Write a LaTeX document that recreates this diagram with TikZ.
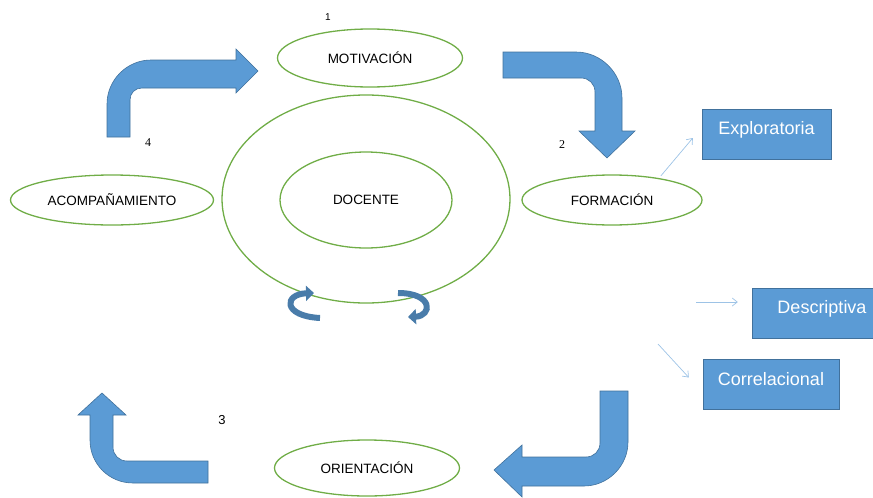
\documentclass[tikz,border=0pt]{standalone}
\usepackage{fontspec}
\setmainfont{Liberation Sans}
\newfontfamily\serifnum{Liberation Serif}
\usetikzlibrary{shapes.geometric}
\usetikzlibrary{arrows.meta}
\definecolor{elgreen}{HTML}{70AD47}
\definecolor{boxblue}{HTML}{5B9BD5}
\definecolor{boxedge}{HTML}{41719C}
\definecolor{thinblue}{HTML}{9DC3E6}

\begin{document}
\begin{tikzpicture}[x=1pt,y=-1pt,
    stage/.style={draw=elgreen, line width=1.3pt, ellipse, inner sep=0pt, font=\fontsize{13.5}{15}\selectfont},
    kind/.style={draw=boxedge, fill=boxblue, rectangle, text=white, font=\fontsize{18}{20}\selectfont, minimum height=50pt, text height=13pt, text depth=12pt},
    bigarrow/.style={fill=boxblue, draw=boxedge, line width=0.6pt},
    turn/.style={draw=boxblue!80!black, line width=6pt, -{Triangle[length=8pt,width=15pt]}},
    thinarrow/.style={draw=thinblue, line width=0.7pt, -{Straight Barb[length=5pt,width=8pt]}}]

    \useasboundingbox (0,0) rectangle (873,498);
    \clip (0,0) rectangle (873,498);

    % Centre
    \node[stage, minimum width=288pt, minimum height=208pt] (ring) at (366,199) {};
    \node[stage, minimum width=172pt, minimum height=96pt] (doc) at (366,200) {DOCENTE};
    \draw[turn] (320,318) .. controls (282,316) and (284,294) .. (314,293);
    \draw[turn] (398,293) .. controls (434,293) and (432,316) .. (408,317);

    % Stages
    \node[stage, minimum width=185pt, minimum height=58pt] (mot) at (370,58) {MOTIVACIÓN};
    \node[font=\fontsize{10}{12}\selectfont] (n1) at (328,17) {1};

    \node[stage, minimum width=180pt, minimum height=50pt] (form) at (612,200) {FORMACIÓN};
    \node[font=\fontsize{12}{14}\serifnum] (n2) at (562,145) {2};

    \node[stage, minimum width=185pt, minimum height=56pt] (ori) at (367,468) {ORIENTACIÓN};
    \node[font=\fontsize{13}{15}\selectfont] (n3) at (222,420) {3};

    \node[stage, minimum width=203pt, minimum height=50pt] (acom) at (112,200) {ACOMPAÑAMIENTO};
    \node[font=\fontsize{12}{14}\serifnum] (n4) at (148,143) {4};

    % Types of research
    \node[kind, minimum width=129pt] (expl) at (766.5,134) {Exploratoria};
    \node[kind, minimum width=140pt] (desc) at (822,313) {Descriptiva};
    \node[kind, minimum width=136pt] (corr) at (771,384.5) {Correlacional};

    \coordinate (dstart) at (696,302);
    \coordinate (cstart) at (658,344);
    \draw[thinarrow, shorten <=3pt] (form.25) -- ([xshift=-9pt,yshift=-4pt]expl.west);
    \draw[thinarrow] (dstart) -- ([xshift=-14pt,yshift=11pt]desc.west);
    \draw[thinarrow] (cstart) -- ([xshift=-14pt,yshift=7pt]corr.west);

    % Big arrows of the cycle
    \filldraw[bigarrow] (107,137) -- (107,104) .. controls (107,80) and (127,60) .. (151,60) -- (236,60) -- (236,49)
        -- (258,71) -- (236,93) -- (236,88) -- (142,88) .. controls (135,88) and (130,93) .. (130,100) -- (130,137) -- cycle;
    \filldraw[bigarrow] (503,52) -- (576,52) .. controls (601,52) and (622,73) .. (622,98) -- (622,131) -- (635,131)
        -- (607,158) -- (579,131) -- (595,131) -- (595,92) .. controls (595,84) and (589,78) .. (581,78) -- (503,78) -- cycle;
    \filldraw[bigarrow] (600,391) -- (628,391) -- (628,442) .. controls (628,466) and (608,486) .. (584,486) -- (522,486)
        -- (522,497) -- (494,470) -- (522,445) -- (522,457) -- (586,457) .. controls (594,457) and (600,451) .. (600,443) -- cycle;
    \filldraw[bigarrow] (208,461) -- (127,461) .. controls (119,461) and (113,455) .. (113,447) -- (113,415) -- (126,415)
        -- (102,393) -- (78,415) -- (90,415) -- (90,440) .. controls (90,464) and (109,483) .. (133,483) -- (208,483) -- cycle;
\end{tikzpicture}
\end{document}
